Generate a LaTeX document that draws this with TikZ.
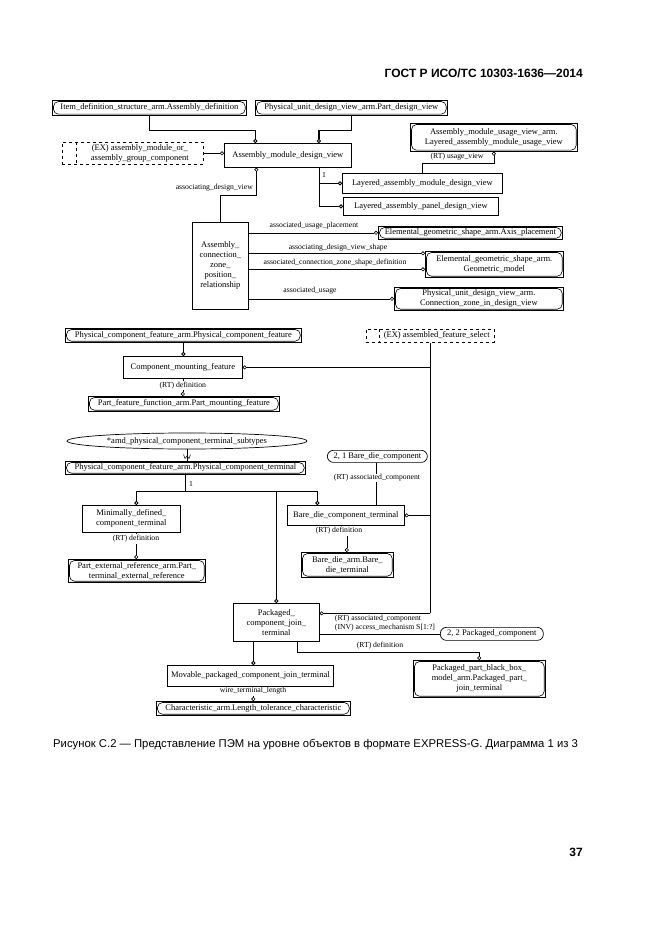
\documentclass[tikz,border=0pt]{standalone}
\usepackage{fontspec}
\setmainfont{Liberation Serif}
\newfontfamily\arialf{Liberation Sans}
\usetikzlibrary{arrows.meta,shapes.geometric}
\tikzset{
 ent/.style={draw, line width=0.7pt, inner sep=0pt, align=center, anchor=north west, font=\fontsize{8.5}{10}\selectfont},
 stad/.style={ent, rounded corners=6pt},
 selbox/.style={draw, dashed, line width=0.6pt, inner sep=0pt, anchor=north west},
 txt/.style={inner sep=0pt, align=center, font=\fontsize{8.5}{10}\selectfont},
 lbl/.style={inner sep=1pt, align=center, font=\fontsize{7.7}{9}\selectfont},
 lblw/.style={lbl, fill=white},
 relp/.style={line width=0.6pt},
 rel/.style={relp, -{Circle[open,length=4pt,width=4pt]}},
 subp/.style={line width=1.3pt},
 sub/.style={subp, -{Circle[open,length=4pt,width=4pt,line width=0.9pt]}},
}
\begin{document}
\begin{tikzpicture}[x=1pt,y=-1pt]
\fill[white] (0,0) rectangle (661,936);
\path[use as bounding box] (0,0) rectangle (661,936);

% header
\node[font=\arialf\bfseries\fontsize{12}{14}\selectfont, anchor=east, inner sep=0pt] (hdr) at (583,73) {ГОСТ Р ИСО/ТС 10303-1636—2014};

% ---------- top section ----------
\node[ent, minimum width=194pt, minimum height=15pt] (r1) at (52,100) {Item\_definition\_structure\_arm.Assembly\_definition};
\node[ent, minimum width=192pt, minimum height=15pt] (r2) at (255,100) {Physical\_unit\_design\_view\_arm.Part\_design\_view};
\node[ent, minimum width=127pt, minimum height=24pt] (amdv) at (224,143) {Assembly\_module\_design\_view};
\node[selbox, minimum width=141pt, minimum height=22pt] (ex1) at (62,142) {};
\node[txt] (ex1t) at ([xshift=7pt]ex1.center) {(EX) assembly\_module\_or\_\\assembly\_group\_component};
\draw[dashed, line width=0.6pt] ([xshift=14pt]ex1.north west) -- ([xshift=14pt]ex1.south west);
\node[ent, minimum width=167pt, minimum height=28pt] (r3) at (410,123) {Assembly\_module\_usage\_view\_arm.\\Layered\_assembly\_module\_usage\_view};
\node[ent, minimum width=160pt, minimum height=20pt] (lamdv) at (342,173) {Layered\_assembly\_module\_design\_view};
\node[ent, minimum width=155pt, minimum height=18pt] (lapdv) at (343,197) {Layered\_assembly\_panel\_design\_view};
\node[ent, minimum width=56pt, minimum height=87pt] (aczpr) at (192,222) {Assembly\_\\connection\_\\zone\_\\position\_\\relationship};
\node[ent, minimum width=184pt, minimum height=13pt] (r4) at (378,226) {Elemental\_geometric\_shape\_arm.Axis\_placement};
\node[ent, minimum width=138pt, minimum height=26pt] (r5) at (425,251) {Elemental\_geometric\_shape\_arm.\\Geometric\_model};
\node[ent, minimum width=169pt, minimum height=23pt] (r6) at (394,287) {Physical\_unit\_design\_view\_arm.\\Connection\_zone\_in\_design\_view};

% ---------- middle section ----------
\node[ent, minimum width=236pt, minimum height=14pt] (r7) at (65,328) {Physical\_component\_feature\_arm.Physical\_component\_feature};
\node[ent, minimum width=119pt, minimum height=22pt] (cmf) at (123,356) {Component\_mounting\_feature};
\node[selbox, minimum width=128pt, minimum height=13pt] (ex2) at (366,329) {};
\node[txt] (ex2t) at ([xshift=6.5pt]ex2.center) {(EX) assembled\_feature\_select};
\draw[dashed, line width=0.6pt] ([xshift=13pt]ex2.north west) -- ([xshift=13pt]ex2.south west);
\node[ent, minimum width=191pt, minimum height=15pt] (r8) at (88,396) {Part\_feature\_function\_arm.Part\_mounting\_feature};

% ---------- lower section ----------
\node[draw, ellipse, line width=0.7pt, inner sep=0pt, minimum width=240pt, minimum height=16pt, font=\fontsize{8.5}{10}\selectfont] (ell) at (187,441) {*amd\_physical\_component\_terminal\_subtypes};
\node[ent, minimum width=240pt, minimum height=13pt] (r9) at (65,461) {Physical\_component\_feature\_arm.Physical\_component\_terminal};
\node[ent, minimum width=98pt, minimum height=27pt] (mdct) at (82,505) {Minimally\_defined\_\\component\_terminal};
\node[ent, minimum width=137pt, minimum height=23pt] (r10) at (68,559) {Part\_external\_reference\_arm.Part\_\\terminal\_external\_reference};
\node[ent, minimum width=117pt, minimum height=20pt] (bdct) at (287,505) {Bare\_die\_component\_terminal};
\node[stad, minimum width=100pt, minimum height=12pt] (r11) at (327,450) {2, 1 Bare\_die\_component};
\node[ent, minimum width=92pt, minimum height=25pt] (r12) at (301,552) {Bare\_die\_arm.Bare\_\\die\_terminal};
\node[ent, minimum width=86pt, minimum height=38pt] (pcjt) at (233,603) {Packaged\_\\component\_join\_\\terminal};
\node[stad, minimum width=103pt, minimum height=13pt] (r13) at (440,627) {2, 2 Packaged\_component};
\node[ent, minimum width=132pt, minimum height=37pt] (r14) at (413,660) {Packaged\_part\_black\_box\_\\model\_arm.Packaged\_part\_\\join\_terminal};
\node[ent, minimum width=166pt, minimum height=21pt] (mpcjt) at (167,665) {Movable\_packaged\_component\_join\_terminal};
\node[ent, minimum width=194pt, minimum height=14pt] (r15) at (156,701) {Characteristic\_arm.Length\_tolerance\_characteristic};

% inner rounded outlines of referenced entities
\foreach \n in {r1,r2,r3,r4,r5,r6,r7,r8,r9,r10,r12,r14,r15}
  \draw[line width=0.6pt, rounded corners=5pt] ([xshift=1.5pt,yshift=-1.5pt]\n.north west) rectangle ([xshift=-1.5pt,yshift=1.5pt]\n.south east);

% ---------- connectors: top ----------
\draw[sub] (r1.south) -- ++(0,15) -| ([xshift=-32.5pt]amdv.north);
\draw[sub] (r2.south) -- ++(0,15) -| ([xshift=31pt]amdv.north);
\draw[rel] (ex1.east) -- (amdv.west |- ex1.east);
\draw[rel] (aczpr.north) -- ++(0,-27) -| ([xshift=-31.5pt]amdv.south);
\node[lbl, anchor=east] (l1) at (254,188) {associating\_design\_view};
\draw[rel] (lamdv.north) -- ++(0,-10) -| (r3.south);
\node[lbl] (l2) at (457,157) {(RT) usage\_view};
\coordinate (j1) at ([xshift=31.5pt]amdv.south);
\draw[sub] (j1) |- (lapdv.west);
\draw[sub] (j1 |- lamdv.west) -- (lamdv.west);
\node[lbl] (l3) at (324,175) {1};
\draw[rel] (aczpr.east |- r4.west) -- (r4.west);
\node[lbl] (l4) at (314,226) {associated\_usage\_placement};
\coordinate (g1) at ([yshift=11pt]r5.west);
\coordinate (g2) at ([yshift=-5pt]r5.west);
\draw[rel] (aczpr.east |- g1) -- (g1);
\draw[rel] (aczpr.east |- g2) -- (g2);
\node[lbl] (l5) at (338,248) {associating\_design\_view\_shape};
\node[lbl] (l6) at (335,263) {associated\_connection\_zone\_shape\_definition};
\draw[rel] (aczpr.east |- r6.west) -- (r6.west);
\node[lbl] (l7) at (310,291) {associated\_usage};

% ---------- connectors: middle ----------
\draw[sub] (r7.south) -- (r7.south |- cmf.north);
\draw[rel] (cmf.south) -- (cmf.south |- r8.north) node[lblw, pos=0.4] (l8) {(RT) definition};
\coordinate (pc1) at ([yshift=9pt]pcjt.east);
\draw[rel] (ex2.south) |- (cmf.east);
\draw[relp] (ex2.south) -- (ex2.south |- pc1);
\draw[rel] (ex2.south |- bdct.east) -- (bdct.east);
\draw[rel] (ex2.south |- pc1) -- (pc1);

% ---------- connectors: lower ----------
\draw[relp] (ell.south) -- (ell.south |- r9.north);
\draw[line width=0.5pt] (183.5,454.5) -- (185,458.5) -- (187,456) -- (189,458.5) -- (190.5,454.5);
\coordinate (j2) at ([yshift=-17pt]r9.south);
\draw[subp] (r9.south) -- (j2);
\draw[sub] (j2) -| ([xshift=5pt]mdct.north);
\draw[sub] (j2) -| ([xshift=-28.5pt]bdct.north);
\draw[sub] (j2 -| pcjt.north) -- (pcjt.north);
\node[lbl] (l9) at (191,484) {1};
\coordinate (m1) at ([xshift=5pt]mdct.south);
\draw[rel] (m1) -- (m1 |- r10.north);
\node[lblw] (l10) at (136,539) {(RT) definition};
\coordinate (b1) at ([xshift=30.5pt]bdct.north);
\draw[relp] (r11.south -| b1) -- (b1);
\node[lblw] (l11) at (377,478) {(RT) associated\_component};
\coordinate (b2) at ([xshift=1pt]bdct.south);
\draw[rel] (b2) -- (b2 |- r12.north);
\node[lblw] (l12) at (339,531) {(RT) definition};
\node[lbl] (l13) at (378,619) {(RT) associated\_component};
\node[lbl] (l14) at (385,628) {(INV) access\_mechanism S[1:?]};
\draw[relp] (pcjt.east |- r13.west) -- (r13.west);
\coordinate (p1) at ([xshift=21pt]pcjt.south);
\draw[rel] (p1) -- ++(0,11) -| (r14.north);
\node[lbl] (l15) at (380,646) {(RT) definition};
\coordinate (p2) at ([xshift=-23pt]pcjt.south);
\draw[sub] (p2) -- (p2 |- mpcjt.north);
\draw[rel] (p2 |- mpcjt.south) -- (p2 |- r15.north);
\node[lblw] (l16) at (253,691) {wire\_terminal\_length};

% caption and page number
\node[font=\arialf\fontsize{11.3}{13}\selectfont, anchor=west, inner sep=0pt] (cap) at (53,745) {Рисунок С.2 — Представление ПЭМ на уровне объектов в формате EXPRESS-G. Диаграмма 1 из 3};
\node[font=\arialf\bfseries\fontsize{12}{14}\selectfont, anchor=east, inner sep=0pt] (pg) at (583,852) {37};
\end{tikzpicture}
\end{document}
